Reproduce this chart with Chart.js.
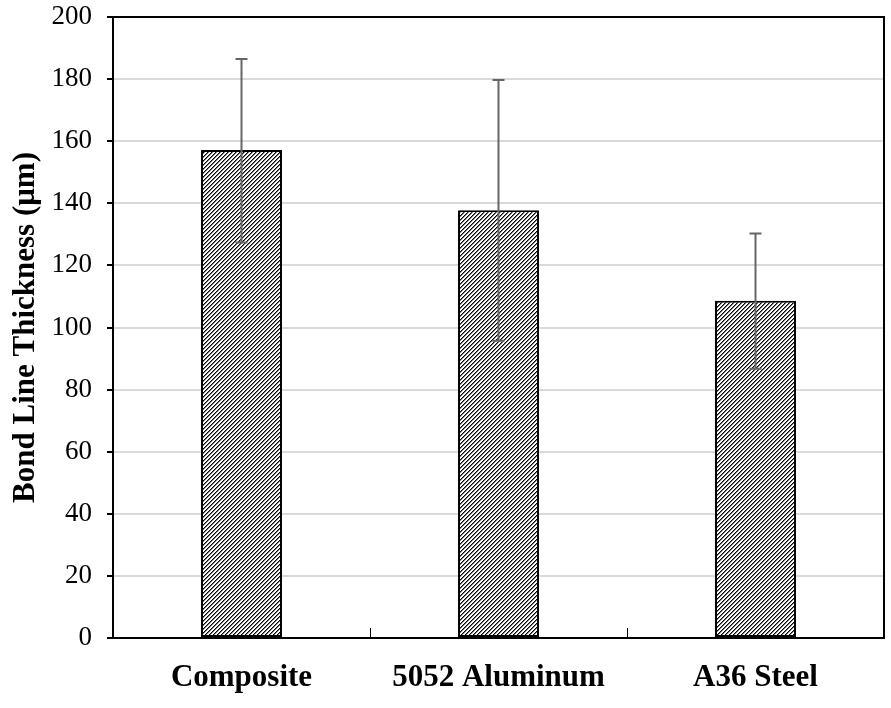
<!DOCTYPE html>
<html><head><meta charset="utf-8">
<script src="https://cdn.jsdelivr.net/npm/chart.js@4.4.0/dist/chart.umd.min.js"></script>
<style>html,body{margin:0;padding:0;background:#fff}#wrap{width:891px;height:708px}</style>
</head><body><div id="wrap"><canvas id="c" width="891" height="708"></canvas></div>
<script>
const categories = ["Composite", "5052 Aluminum", "A36 Steel"];
const meanValues = [157.2, 137.8, 108.6];
const errorHigh = [186.5, 179.7, 130.3];
const errorLow = [127.4, 95.7, 86.7];
const yTicks = [0, 20, 40, 60, 80, 100, 120, 140, 160, 180, 200];

function makeHatch(){
  const s = 4;
  const p = document.createElement('canvas'); p.width = s; p.height = s;
  const g = p.getContext('2d');
  g.fillStyle = '#fff'; g.fillRect(0,0,s,s);
  for (let i=0;i<s;i++){
    g.fillStyle = '#000'; g.fillRect(s-1-i, i, 1, 1);
    g.fillStyle = '#777'; g.fillRect((s-i)%s, i, 1, 1);
  }
  return document.getElementById('c').getContext('2d').createPattern(p, 'repeat');
}

const extras = {
  id: 'extras',
  afterDatasetsDraw(chart){
    const ctx = chart.ctx, x = chart.scales.x, y = chart.scales.y, a = chart.chartArea;
    ctx.save();
    ctx.strokeStyle = '#666'; ctx.lineWidth = 2;
    categories.forEach((c,i)=>{
      const px = x.getPixelForValue(i);
      const yt = y.getPixelForValue(errorHigh[i]), yb = y.getPixelForValue(errorLow[i]);
      ctx.beginPath();
      ctx.moveTo(px, yt); ctx.lineTo(px, yb);
      ctx.moveTo(px-6, yt); ctx.lineTo(px+6, yt);
      ctx.moveTo(px-6, yb); ctx.lineTo(px+6, yb);
      ctx.stroke();
    });
    ctx.strokeStyle = '#000'; ctx.lineWidth = 2;
    ctx.strokeRect(a.left, a.top, a.right - a.left, a.bottom - a.top);
    ctx.lineWidth = 1;
    for (let i=0;i<categories.length-1;i++){
      const bx = Math.round((x.getPixelForValue(i)+x.getPixelForValue(i+1))/2)+0.5;
      ctx.beginPath(); ctx.moveTo(bx, a.bottom); ctx.lineTo(bx, a.bottom-10); ctx.stroke();
    }
    ctx.restore();
  }
};

new Chart(document.getElementById('c'), {
  type: 'bar',
  data: {
    labels: categories,
    datasets: [{
      data: meanValues,
      backgroundColor: makeHatch(),
      borderColor: '#000',
      borderWidth: 2,
      borderSkipped: false,
      categoryPercentage: 1,
      barPercentage: 0.315
    }]
  },
  options: {
    responsive: false,
    animation: false,
    layout: { padding: { left: 0, right: 7, top: 17, bottom: 0 } },
    plugins: { legend: { display: false }, tooltip: { enabled: false } },
    scales: {
      x: {
        grid: { display: false },
        border: { display: false },
        ticks: { color: '#000', font: { family: 'Liberation Serif', size: 31, weight: 'bold' }, padding: 13, maxRotation: 0 },
        afterFit(s){ s.height = 70; s.paddingLeft = 0; s.paddingRight = 0; }
      },
      y: {
        min: 0, max: 200,
        afterBuildTicks(s){ s.ticks = yTicks.map(v=>({value:v})); },
        grid: { color: (c)=> (c.tick && (c.tick.value===0 || c.tick.value===200)) ? 'rgba(0,0,0,0)' : '#d9d9d9', lineWidth: 2, tickLength: 6, tickColor: '#000', drawTicks: true },
        border: { display: false },
        ticks: { color: '#000', font: { family: 'Liberation Serif', size: 27 }, padding: 15 },
        title: { display: true, text: 'Bond Line Thickness (μm)', color: '#000', font: { family: 'Liberation Serif', size: 31, weight: 'bold' }, padding: { top: 7, bottom: 0 } },
        afterFit(s){ s.width = 113; s.paddingTop = 0; s.paddingBottom = 0; }
      }
    }
  },
  plugins: [extras]
});
</script></body></html>
